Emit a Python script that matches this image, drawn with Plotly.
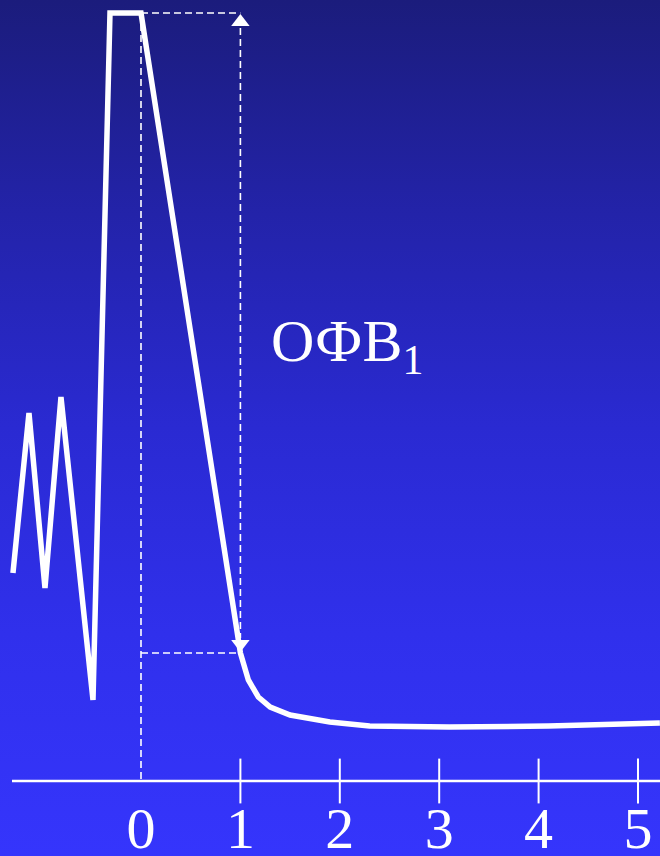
import base64
import plotly.graph_objects as go

# ---- data (time in s, volume in arbitrary units) ----
curve_t = [-1.288, -1.127, -0.966, -0.805, -0.483, -0.312, 0.0, 1.0,
           1.08, 1.18, 1.30, 1.50, 1.90, 2.30, 3.10, 4.10, 5.22]
curve_v = [2.08, 3.68, 1.93, 3.84, 0.81, 7.68, 7.68, 1.28,
           1.01, 0.84, 0.74, 0.66, 0.59, 0.55, 0.54, 0.55, 0.58]
peak_v = 7.68
fev1_t = 1.0
fev1_v = 1.28
tick_vals = [0, 1, 2, 3, 4, 5]
tick_text = ["0", "1", "2", "3", "4", "5"]
mark_ticks = [1, 2, 3, 4, 5]
label = "ОФВ<sub>1</sub>"

W, H = 660, 856
MB = 75
plot_h = H - MB
x_range = [-141 / 99.4, (660 - 141) / 99.4]
y_range = [0, plot_h / 100]
px_y = (y_range[1] - y_range[0]) / plot_h  # data units per px

svg = f'''<svg xmlns="http://www.w3.org/2000/svg" width="{W}" height="{H}" preserveAspectRatio="none">
<defs><linearGradient id="g" x1="0" y1="0" x2="0" y2="1">
<stop offset="0" stop-color="#1b1c7c"/>
<stop offset="0.25" stop-color="#2323a9"/>
<stop offset="0.5" stop-color="#2a2ad2"/>
<stop offset="0.74" stop-color="#3030ec"/>
<stop offset="1" stop-color="#3535fc"/>
</linearGradient></defs>
<rect width="{W}" height="{H}" fill="url(#g)"/></svg>'''
bg_uri = "data:image/svg+xml;base64," + base64.b64encode(svg.encode()).decode()

fig = go.Figure()
dash = "7px,4px"
dl = dict(color="white", width=1.6, dash=dash)

# dashed guides
fig.add_trace(go.Scatter(x=[0, 0], y=[peak_v, 0], mode="lines", line=dl, hoverinfo="skip"))
fig.add_trace(go.Scatter(x=[0, fev1_t], y=[peak_v, peak_v], mode="lines", line=dl, hoverinfo="skip"))
fig.add_trace(go.Scatter(x=[0, fev1_t], y=[fev1_v, fev1_v], mode="lines", line=dl, hoverinfo="skip"))
fig.add_trace(go.Scatter(x=[fev1_t, fev1_t], y=[peak_v - 15 * px_y, fev1_v + 15 * px_y],
                         mode="lines", line=dl, hoverinfo="skip"))
# arrow heads
fig.add_trace(go.Scatter(x=[fev1_t], y=[peak_v - 9 * px_y], mode="markers",
                         marker=dict(symbol="triangle-up", size=16, color="white",
                                     line=dict(width=0)), cliponaxis=False, hoverinfo="skip"))
fig.add_trace(go.Scatter(x=[fev1_t], y=[fev1_v + 9 * px_y], mode="markers",
                         marker=dict(symbol="triangle-down", size=16, color="white",
                                     line=dict(width=0)), cliponaxis=False, hoverinfo="skip"))

# main curve
fig.add_trace(go.Scatter(x=curve_t, y=curve_v, mode="lines",
                         line=dict(color="white", width=5.5), hoverinfo="skip"))

# tick marks crossing the axis
fig.add_trace(go.Scatter(x=mark_ticks, y=[0] * len(mark_ticks), mode="markers",
                         marker=dict(symbol="line-ns", size=32,
                                     line=dict(color="white", width=2)),
                         cliponaxis=False, hoverinfo="skip"))

# axis line (paper-referenced so it is not clipped at the plot edge)
fig.add_shape(type="line", xref="paper", yref="paper", x0=12 / W, x1=1,
              y0=0, y1=0, line=dict(color="white", width=2.5), layer="above")

fig.add_annotation(x=1.29, y=4.36, xref="x", yref="y", text=label, showarrow=False,
                   xanchor="left", yanchor="middle",
                   font=dict(family="Liberation Serif", size=60, color="white"))

fig.add_layout_image(dict(source=bg_uri, xref="paper", yref="paper", x=0, y=1,
                          sizex=1, sizey=H / plot_h, sizing="stretch", layer="below"))

fig.update_layout(
    width=W, height=H,
    margin=dict(l=0, r=0, t=0, b=MB, autoexpand=False),
    paper_bgcolor="#3434f8",
    plot_bgcolor="rgba(0,0,0,0)",
    showlegend=False,
    xaxis=dict(range=x_range, showgrid=False, zeroline=False, showline=False,
               automargin=False,
               tickvals=tick_vals, ticktext=tick_text, ticks="",
               ticklabelstandoff=8,
               tickfont=dict(family="Liberation Serif", size=58, color="white"),
               fixedrange=True),
    yaxis=dict(range=y_range, showgrid=False, zeroline=False, showline=False,
               automargin=False,
               showticklabels=False, fixedrange=True),
)

fig.write_html("out.html", config={"displayModeBar": False},
               post_script="document.body.style.margin='0';document.body.style.overflow='hidden';")
